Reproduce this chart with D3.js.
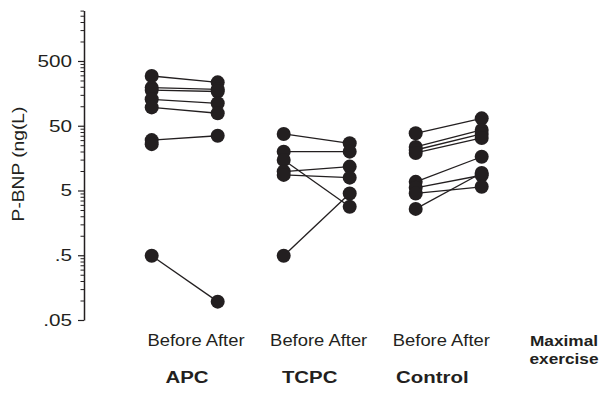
<!DOCTYPE html>
<html>
<head>
<meta charset="utf-8">
<script src="https://cdn.jsdelivr.net/npm/d3@7"></script>
<style>
  html, body { margin: 0; padding: 0; background: #fff; }
  svg { display: block; font-family: "Liberation Sans", Arial, sans-serif; }
  .axis path, .axis line { stroke: #231f20; }
  .axis text { fill: #231f20; }
</style>
</head>
<body>
<div id="chart"></div>
<script>
// Groups and the two time points of each
const groups = ['APC', 'TCPC', 'Control'];
const phases = ['Before', 'After'];
const footLabel = 'Maximal exercise';

// P-BNP (ng/L), one entry per patient, Before -> After (null = no after value)
const apcBefore = [293, 194, 178, 128, 96, 30, 26, 0.49];
const apcAfter = [234, 182, 169, 111, 78, 35, null, 0.096];

const tcpcBefore = [37.3, 19.9, 14.8, 9.8, 8.7, 0.49];
const tcpcAfter = [26.8, 19.9, 2.8, 11.7, 7.9, 4.5];

const controlBefore = [38.2, 23.5, 21.1, 19.0, 6.8, 5.5, 4.5, 2.6];
const controlAfter = [65, 43, 37.3, 32.4, 16.6, 8.6, 5.7, 9.3];

// Axis ticks
const majorTicks = [0.05, 0.5, 5, 50, 500];
const majorLabels = ['.05', '.5', '5', '50', '500'];
const yMin = 0.05, yMax = 3000;

const W = 602, H = 408;
const axisX = 84;
const ink = '#231f20';

const svg = d3.select('#chart').append('svg')
    .attr('width', W).attr('height', H);

const y = d3.scaleLog().domain([yMin, yMax]).range([320, 10.6]);

// one slot per group / phase
const slots = [];
groups.forEach(g => phases.forEach(p => slots.push(g + '|' + p)));
const x = d3.scalePoint().domain(slots).range([151.7, 481.7]);

// minor ticks: multiples of the lower major value in each decade
let minorTicks = [];
majorTicks.forEach(m => {
    for (let k = 2; k <= 9; k++) {
        const v = m * k;
        if (v <= yMax + 1e-9) minorTicks.push(v);
    }
});

// Axes
const minorAxis = svg.append('g').attr('class', 'axis')
    .attr('transform', `translate(${axisX},0)`)
    .call(d3.axisLeft(y).tickValues(minorTicks).tickSize(3.5).tickFormat(''));
minorAxis.select('.domain').remove();
minorAxis.selectAll('line').attr('stroke-width', 1);

const majorAxis = svg.append('g').attr('class', 'axis')
    .attr('transform', `translate(${axisX},0)`)
    .call(d3.axisLeft(y).tickValues(majorTicks).tickSize(6).tickSizeOuter(0)
        .tickFormat((d, i) => majorLabels[i]));
majorAxis.select('.domain').attr('stroke-width', 1.5);
majorAxis.selectAll('line').attr('stroke-width', 1.2);
majorAxis.selectAll('text')
    .attr('x', 0)
    .attr('font-size', 17)
    .attr('font-family', null)
    .attr('transform', 'translate(-12,0) scale(1.22,1)');

// y title
svg.append('text')
    .attr('transform', 'translate(24,164) rotate(-90) scale(1.2,1)')
    .attr('text-anchor', 'middle')
    .attr('font-size', 16)
    .attr('fill', ink)
    .text('P-BNP (ng(L)');

// Pairs
const series = [
    { group: 'APC', before: apcBefore, after: apcAfter },
    { group: 'TCPC', before: tcpcBefore, after: tcpcAfter },
    { group: 'Control', before: controlBefore, after: controlAfter }
];

const pairs = [];
series.forEach(s => {
    s.before.forEach((b, i) => pairs.push({ group: s.group, before: b, after: s.after[i] }));
});

const plot = svg.append('g').attr('class', 'plot');

plot.selectAll('line.pair')
    .data(pairs.filter(d => d.before != null && d.after != null))
    .join('line')
    .attr('class', 'pair')
    .attr('x1', d => x(d.group + '|Before'))
    .attr('y1', d => y(d.before))
    .attr('x2', d => x(d.group + '|After'))
    .attr('y2', d => y(d.after))
    .attr('stroke', ink)
    .attr('stroke-width', 1.3);

const points = [];
pairs.forEach(d => {
    if (d.before != null) points.push({ slot: d.group + '|Before', value: d.before });
    if (d.after != null) points.push({ slot: d.group + '|After', value: d.after });
});

plot.selectAll('circle')
    .data(points)
    .join('circle')
    .attr('cx', d => x(d.slot))
    .attr('cy', d => y(d.value))
    .attr('r', 7)
    .attr('fill', ink);

// Bottom labels
const labelX = d3.scalePoint().domain([...groups, footLabel]).range([196, 564]);

const bottom = svg.append('g').attr('fill', ink);

bottom.selectAll('text.phase')
    .data(groups)
    .join('text')
    .attr('class', 'phase')
    .attr('text-anchor', 'middle')
    .attr('font-size', 16)
    .attr('transform', d => `translate(${labelX(d)},346) scale(1.15,1)`)
    .text(phases.join(' '));

bottom.selectAll('text.group')
    .data(groups)
    .join('text')
    .attr('class', 'group')
    .attr('text-anchor', 'middle')
    .attr('font-size', 17)
    .attr('font-weight', 'bold')
    .attr('transform', d => `translate(${labelX(d) - 9},383) scale(1.2,1)`)
    .text(d => d);

bottom.selectAll('text.foot')
    .data(footLabel.split(' '))
    .join('text')
    .attr('class', 'foot')
    .attr('text-anchor', 'middle')
    .attr('font-size', 15)
    .attr('font-weight', 'bold')
    .attr('transform', (d, i) => `translate(${labelX(footLabel)},${346 + i * 18}) scale(1.15,1)`)
    .text(d => d);
</script>
</body>
</html>
